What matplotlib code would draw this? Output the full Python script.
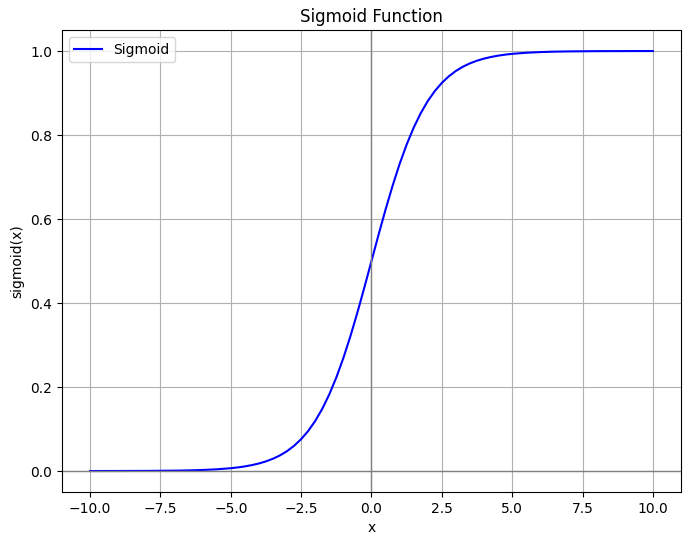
import matplotlib
matplotlib.use('Agg')
import matplotlib.pyplot as plt

# Значения кривой
x_vals = [-10, -9, -8, -7, -6.5, -6, -5.5, -5, -4.75, -4.5, -4.25, -4, -3.75,
          -3.5, -3.25, -3, -2.75, -2.5, -2.25, -2, -1.75, -1.5, -1.25, -1,
          -0.75, -0.5, -0.25, 0, 0.25, 0.5, 0.75, 1, 1.25, 1.5, 1.75, 2, 2.25,
          2.5, 2.75, 3, 3.25, 3.5, 3.75, 4, 4.25, 4.5, 4.75, 5, 5.5, 6, 6.5,
          7, 8, 9, 10]
y_vals = [0.0000, 0.0001, 0.0003, 0.0009, 0.0015, 0.0025, 0.0041, 0.0067,
          0.0086, 0.0110, 0.0141, 0.0180, 0.0230, 0.0293, 0.0373, 0.0474,
          0.0601, 0.0759, 0.0953, 0.1192, 0.1480, 0.1824, 0.2227, 0.2689,
          0.3208, 0.3775, 0.4378, 0.5000, 0.5622, 0.6225, 0.6792, 0.7311,
          0.7773, 0.8176, 0.8520, 0.8808, 0.9047, 0.9241, 0.9399, 0.9526,
          0.9627, 0.9707, 0.9770, 0.9820, 0.9859, 0.9890, 0.9914, 0.9933,
          0.9959, 0.9975, 0.9985, 0.9991, 0.9997, 0.9999, 1.0000]

fig = plt.figure(figsize=(6.91, 5.45), dpi=100)
ax = fig.add_axes([0.0897, 0.0972, 0.8958, 0.8477])
ax.plot(x_vals, y_vals, color='blue', label='Sigmoid')
ax.axhline(0, color='gray', linewidth=1)
ax.axvline(0, color='gray', linewidth=1)
ax.set_title('Sigmoid Function')
ax.set_xlabel('x')
ax.set_ylabel('sigmoid(x)')
ax.grid(True)
ax.legend(loc='upper left')
fig.savefig('out.png', dpi=100)
